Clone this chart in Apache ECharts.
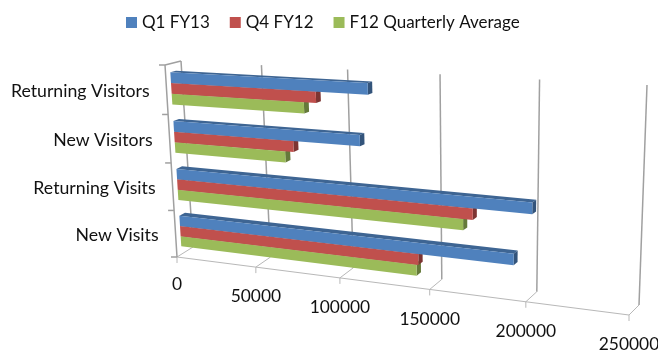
<!DOCTYPE html>
<html>
<head>
<meta charset="utf-8">
<style>html,body{margin:0;padding:0;background:#fff}#chart{width:658px;height:354px}</style>
<script src="https://cdn.jsdelivr.net/npm/echarts@6/dist/echarts.min.js"></script>
</head>
<body>
<div id="chart"></div>
<script>
// Site traffic by quarter
const categories = ['New Visits', 'Returning Visits', 'New Visitors', 'Returning Visitors'];
const q1FY13 = [192000, 201000, 111000, 116000];
const q4FY12 = [142000, 171000, 73000, 87000];
const fy12Average = [141000, 166000, 68000, 80000];
const axisTicks = [0, 50000, 100000, 150000, 200000, 250000];

const FONT = 'Lato, "Open Sans", sans-serif';
const CATEGORY_SIZE = 17.7;
const TICK_SIZE = 17.4;

// The 3D view: two faces of the plot box, as screen quadrilaterals.
const frontFace = { bl: [177, 257], br: [629, 315], tl: [165, 65], tr: [637, 89] };
const backFace = { bl: [193, 247], br: [639, 305], tl: [181, 61], tr: [647, 85] };
const BAR_NEAR = 0.3, BAR_FAR = 0.65;
const BAR_BAND_SHARE = 0.66;

// Unit-square to quad homography.
function homography(q) {
  const [x0, y0] = q.tl, [x1, y1] = q.tr, [x2, y2] = q.br, [x3, y3] = q.bl;
  const dx1 = x1 - x2, dx2 = x3 - x2, sx = x0 - x1 + x2 - x3;
  const dy1 = y1 - y2, dy2 = y3 - y2, sy = y0 - y1 + y2 - y3;
  const den = dx1 * dy2 - dx2 * dy1;
  const g = (sx * dy2 - dx2 * sy) / den, h = (dx1 * sy - sx * dy1) / den;
  const a = x1 - x0 + g * x1, b = x3 - x0 + h * x3;
  const d = y1 - y0 + g * y1, e = y3 - y0 + h * y3;
  return (u, t) => {
    const w = g * u + h * t + 1;
    return [(a * u + b * t + x0) / w, (d * u + e * t + y0) / w];
  };
}
const mapFront = homography(frontFace), mapBack = homography(backFace);

// u: along the value axis, v: up the category axis, z: 0 front to 1 back.
function project(u, v, z) {
  const f = mapFront(u, 1 - v), b = mapBack(u, 1 - v);
  return [f[0] + (b[0] - f[0]) * z, f[1] + (b[1] - f[1]) * z];
}

function toUnit(params, pt) {
  const c = params.coordSys;
  return [(pt[0] - c.x) / c.width, (c.y + c.height - pt[1]) / c.height];
}

function darken(hex, k) {
  const n = parseInt(hex.slice(1), 16);
  const ch = s => Math.round(((n >> s) & 255) * k);
  return `rgb(${ch(16)},${ch(8)},${ch(0)})`;
}

// Each bar is a prism: front face, top face and end cap.
function barRenderer(slot, color) {
  return function (params, api) {
    const value = api.value(0), cat = api.value(1);
    const band = api.size([0, 1])[1];
    const barH = band * BAR_BAND_SHARE / 3;
    const base = api.coord([0, cat]), tip = api.coord([value, cat]);
    const topPx = base[1] - band * BAR_BAND_SHARE / 2 + slot * barH;
    const u0 = toUnit(params, [base[0], topPx])[0];
    const u1 = toUnit(params, [tip[0], topPx])[0];
    const vt = toUnit(params, [base[0], topPx])[1];
    const vb = toUnit(params, [base[0], topPx + barH])[1];
    const A = project(u0, vt, BAR_NEAR), B = project(u1, vt, BAR_NEAR);
    const C = project(u1, vb, BAR_NEAR), D = project(u0, vb, BAR_NEAR);
    const E = project(u0, vt, BAR_FAR), F = project(u1, vt, BAR_FAR);
    const G = project(u1, vb, BAR_FAR);
    return {
      type: 'group',
      children: [
        { type: 'polygon', shape: { points: [A, B, F, E] }, style: { fill: darken(color, 0.78) } },
        { type: 'polygon', shape: { points: [B, F, G, C] }, style: { fill: darken(color, 0.65) } },
        { type: 'polygon', shape: { points: [A, B, C, D] }, style: { fill: color } }
      ]
    };
  };
}

function line(a, b, stroke, width) {
  return {
    type: 'line',
    shape: { x1: a[0], y1: a[1], x2: b[0], y2: b[1] },
    style: { stroke: stroke, lineWidth: width }
  };
}

// Walls, floor, ticks and value labels.
function renderValueTick(params, api) {
  const value = api.value(0);
  const u = toUnit(params, api.coord([value, 0]))[0];
  const front = project(u, 0, 0), back = project(u, 0, 1), top = project(u, 1, 1);
  const children = [
    line(back, top, '#a0a0a0', 1.5),
    line(front, back, '#b8b8b8', 1),
    line(front, [front[0], front[1] + 6], '#b8b8b8', 1),
    {
      type: 'text',
      style: {
        text: String(value), x: front[0], y: front[1] + (value === 0 ? 27 : 29.5),
        align: 'center', verticalAlign: 'middle',
        font: `${TICK_SIZE}px ${FONT}`, fill: '#111111'
      }
    }
  ];
  if (params.dataIndex === 0) {
    const far = project(1, 0, 0);
    const tl = project(0, 1, 0);
    children.push(line(front, far, '#b8b8b8', 1));
    children.push(line(front, tl, '#a0a0a0', 1.5));
    children.push(line(tl, top, '#a0a0a0', 1.5));
    children.push(line(tl, [tl[0] - 6, tl[1]], '#a0a0a0', 1.5));
  }
  return { type: 'group', children: children };
}

function renderCategory(params, api) {
  const cat = api.value(0);
  const pt = api.coord([0, cat]);
  const band = api.size([0, 1])[1];
  const unit = toUnit(params, pt);
  const mid = project(unit[0], unit[1], 0);
  const low = toUnit(params, [pt[0], pt[1] + band / 2]);
  const tick = project(low[0], low[1], 0);
  return {
    type: 'group',
    children: [
      line(tick, [tick[0] - 6, tick[1]], '#a0a0a0', 1.5),
      {
        type: 'text',
        style: {
          text: categories[cat], x: mid[0] - 17, y: mid[1] + 1,
          align: 'right', verticalAlign: 'middle',
          font: `${CATEGORY_SIZE}px ${FONT}`, fill: '#111111'
        }
      }
    ]
  };
}

function barSeries(name, values, slot, color, z) {
  return {
    name: name,
    type: 'custom',
    coordinateSystem: 'cartesian2d',
    renderItem: barRenderer(slot, color),
    itemStyle: { color: color },
    encode: { x: 0, y: 1 },
    data: values.map((v, i) => [v, i]),
    z: z,
    silent: true
  };
}

const chart = echarts.init(document.getElementById('chart'), null, { renderer: 'canvas' });
chart.setOption({
  animation: false,
  backgroundColor: '#ffffff',
  grid: { left: 100, right: 100, top: 60, bottom: 60 },
  xAxis: { type: 'value', min: 0, max: 250000, show: false },
  yAxis: { type: 'category', data: categories, show: false },
  legend: {
    top: 9, left: 121,
    icon: 'rect', itemWidth: 11, itemHeight: 11, itemGap: 20,
    textStyle: { fontFamily: FONT, fontSize: 17, color: '#111111' },
    data: ['Q1 FY13', 'Q4 FY12', 'F12 Quarterly Average']
  },
  series: [
    {
      name: 'value axis', type: 'custom', renderItem: renderValueTick,
      encode: { x: 0 }, data: axisTicks.map(v => [v]), z: 1, silent: true
    },
    {
      name: 'category axis', type: 'custom', renderItem: renderCategory,
      encode: { y: 0 }, data: categories.map((c, i) => [i]), z: 1, silent: true
    },
    barSeries('Q1 FY13', q1FY13, 0, '#4f81bd', 5),
    barSeries('Q4 FY12', q4FY12, 1, '#c0504d', 4),
    barSeries('F12 Quarterly Average', fy12Average, 2, '#9bbb59', 3)
  ]
});
</script>
</body>
</html>
